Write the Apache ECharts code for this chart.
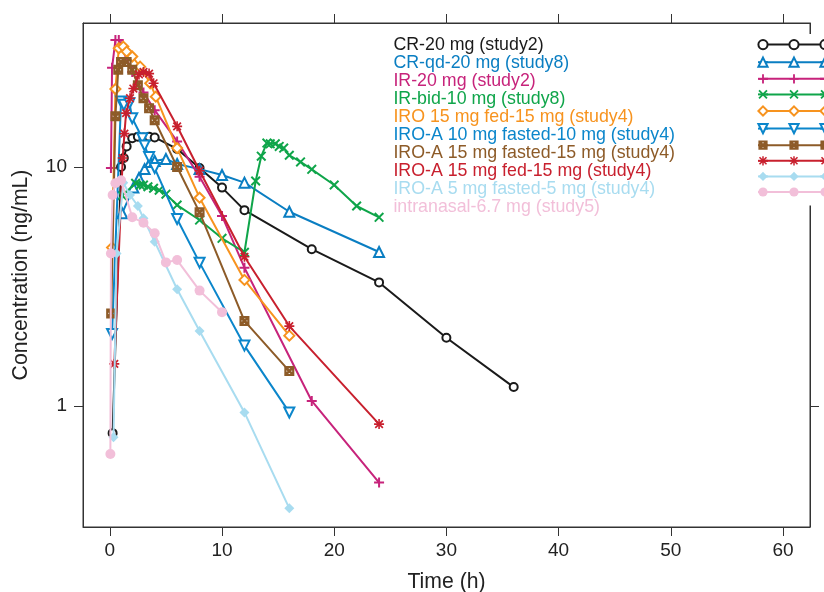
<!DOCTYPE html>
<html>
<head>
<meta charset="utf-8">
<script src="https://cdn.jsdelivr.net/npm/echarts@6/dist/echarts.min.js"></script>
<style>
html,body{margin:0;padding:0;background:#fff;}
#chart{width:824px;height:592px;}
</style>
</head>
<body>
<div id="chart"></div>
<script>
// ---- data (time in h, concentration in ng/mL) ----
const seriesNames = [
  'CR-20 mg (study2)',
  'CR-qd-20 mg (study8)',
  'IR-20 mg (study2)',
  'IR-bid-10 mg (study8)',
  'IRO 15 mg fed-15 mg (study4)',
  'IRO-A 10 mg fasted-10 mg (study4)',
  'IRO-A 15 mg fasted-15 mg (study4)',
  'IRO-A 15 mg fed-15 mg (study4)',
  'IRO-A 5 mg fasted-5 mg (study4)',
  'intranasal-6.7 mg (study5)'
];
const crTime   = [0.25, 1, 1.25, 1.5, 2, 2.5, 3, 3.5, 4, 6, 8, 10, 12, 18, 24, 30, 36];
const crConc   = [0.77, 10.0, 10.9, 12.2, 13.2, 13.4, 13.3, 13.4, 13.3, 11.9, 9.9, 8.2, 6.6, 4.53, 3.29, 1.93, 1.2];
const crqdTime = [1.1, 2.1, 2.6, 3.1, 3.6, 4, 5, 6, 8, 10, 12, 16, 24];
const crqdConc = [6.4, 8.2, 9.0, 9.8, 10.5, 10.6, 10.8, 10.3, 9.8, 9.26, 8.6, 6.5, 4.41];
const irTime   = [0.1, 0.2, 0.5, 0.8, 1, 2, 3, 4, 6, 8, 10, 12, 18, 24];
const irConc   = [9.9, 26, 34, 34, 32, 25, 20.5, 17.3, 12.8, 9.1, 6.24, 3.79, 1.05, 0.478];
const irbidTime = [1.1, 2.3, 2.7, 3, 3.4, 3.9, 4.4, 5, 6, 8, 10, 12, 13, 13.5, 14, 14.3, 14.75, 15.1, 15.5, 16, 17, 18, 20, 22, 24];
const irbidConc = [7.6, 8.55, 8.4, 8.4, 8.27, 8.15, 8.0, 7.7, 6.93, 6.0, 5.03, 4.4, 8.74, 11.1, 12.6, 12.5, 12.5, 12.2, 12.0, 11.2, 10.5, 9.78, 8.41, 6.87, 6.16];
const iroFedTime = [0.2, 0.5, 0.8, 1.2, 1.5, 2, 2.7, 3.6, 4.1, 6, 8, 12, 16];
const iroFedConc = [4.6, 21.2, 31.4, 31.9, 30.4, 29, 26.3, 22.4, 19.7, 12.0, 7.44, 3.37, 1.97];
const iroa10Time = [0.2, 1, 1.25, 1.75, 2, 2.9, 3.1, 3.5, 4, 6, 8, 12, 16];
const iroa10Conc = [2.0, 18.8, 18.2, 18.5, 16, 13.2, 12.3, 11.0, 9.9, 6.06, 3.98, 1.79, 0.94];
const iroa15fTime = [0.12, 0.5, 0.75, 1, 1.5, 2, 2.5, 3, 3.5, 4, 6, 8, 12, 16];
const iroa15fConc = [2.44, 16.3, 25.5, 27.5, 27.5, 25.5, 22, 19.4, 17.6, 15.7, 10.0, 6.46, 2.27, 1.40];
const iroa15fedTime = [0.4, 1.15, 1.3, 1.45, 1.8, 2.1, 2.6, 3, 3.5, 3.9, 6, 8, 12, 16, 24];
const iroa15fedConc = [1.5, 10.9, 13.8, 16.8, 19.4, 21.3, 24.4, 25, 24.6, 22.4, 14.8, 9.65, 4.21, 2.16, 0.84];
const iroa5Time = [0.33, 0.6, 1.2, 1.8, 2.5, 3, 4, 6, 8, 12, 16];
const iroa5Conc = [0.74, 4.35, 8.6, 7.64, 6.87, 6.1, 4.87, 3.08, 2.06, 0.94, 0.373];
const inTime = [0.05, 0.1, 0.25, 0.5, 1, 2, 3, 4, 5, 6, 8, 10];
const inConc = [0.63, 4.35, 7.64, 8.55, 8.8, 6.16, 5.85, 5.28, 3.99, 4.08, 3.04, 2.47];

const xTicks = [0, 10, 20, 30, 40, 50, 60];
const yTicks = [1, 10];

const times = [crTime, crqdTime, irTime, irbidTime, iroFedTime, iroa10Time, iroa15fTime, iroa15fedTime, iroa5Time, inTime];
const concs = [crConc, crqdConc, irConc, irbidConc, iroFedConc, iroa10Conc, iroa15fConc, iroa15fedConc, iroa5Conc, inConc];

// ---- styles ----
const colors = ['#1a1a1a', '#0a7ec2', '#c7237b', '#0fa54a', '#f7931e', '#0b86cb', '#8d5b28', '#c8202e', '#a8dcf0', '#f2bfd9'];
const PLUS = 'path://M4,0H6V10H4ZM0,4H10V6H0Z';
const CROSS = 'path://M0,1.4L1.4,0L10,8.6L8.6,10ZM8.6,0L10,1.4L1.4,10L0,8.6Z';
const STAR = 'path://M4.2,0H5.8V10H4.2ZM0.6,1.8L1.8,0.6L9.4,8.2L8.2,9.4ZM8.2,0.6L9.4,1.8L1.8,9.4L0.6,8.2ZM0,4.2H10V5.8H0Z';
const BOXX = 'path://M0,0H10V10H0ZM2.2,2.2V7.8H7.8V2.2ZM1,2.8L2.8,1L9,7.2L7.2,9ZM7.2,1L9,2.8L2.8,9L1,7.2Z';
const symbols = ['emptyCircle', 'emptyTriangle', PLUS, CROSS, 'emptyDiamond', 'emptyTriangle', BOXX, STAR, 'diamond', 'circle'];
const symbolSizes = [8, 10, 10, 10, 10, 10, 10, 10, 10, 10];
const symbolRotates = [0, 0, 0, 0, 0, 180, 0, 0, 0, 0];
const borderWidths = [1.6, 1.6, 0, 0, 1.6, 1.6, 0, 0, 0, 0];
const FONT = 'Liberation Sans';
const FRAME = '#333333';

const series = seriesNames.map((name, i) => ({
  name: name,
  type: 'line',
  xAxisIndex: 0,
  yAxisIndex: 0,
  data: times[i].map((t, j) => [t, concs[i][j]]),
  symbol: symbols[i],
  symbolSize: symbolSizes[i],
  symbolRotate: symbolRotates[i],
  showAllSymbol: true,
  color: colors[i],
  lineStyle: { width: 2, color: colors[i] },
  itemStyle: { color: colors[i], borderWidth: borderWidths[i] },
  emphasis: { disabled: true },
  z: 2 + i * 0.01
}));

const iconLegendBase = {
  orient: 'vertical',
  selectedMode: false,
  itemHeight: 11.5,
  itemGap: 6.4,
  padding: 0,
  top: 39,
  formatter: function () { return ''; },
  textStyle: { fontSize: 11, lineHeight: 11 },
  data: seriesNames
};

const axisLineStyle = { show: true, onZero: false, lineStyle: { color: FRAME, width: 1 } };
const tickStyle = { color: FRAME, width: 1 };

const chart = echarts.init(document.getElementById('chart'), null, { renderer: 'canvas' });
chart.setOption({
  animation: false,
  backgroundColor: '#ffffff',
  textStyle: { fontFamily: FONT },
  grid: {
    left: 83, right: 14, top: 23, bottom: 65,
    outerBoundsMode: 'none',
    containLabel: false,
    show: true, borderColor: FRAME, borderWidth: 1, backgroundColor: 'transparent'
  },
  legend: [
    {
      orient: 'vertical',
      selectedMode: false,
      left: 387,
      top: 36,
      padding: 0,
      itemWidth: 0,
      itemHeight: 1,
      itemGap: 0,
      itemStyle: { opacity: 0 },
      lineStyle: { opacity: 0 },
      textStyle: { fontSize: 17.8, lineHeight: 17.9, fontFamily: FONT },
      data: seriesNames.map((n, i) => ({ name: n, textStyle: { color: colors[i] } }))
    },
    Object.assign({}, iconLegendBase, {
      left: 757, top: 34, itemWidth: 62,
      padding: [5, 0, 9, 5],
      backgroundColor: '#ffffff'
    }),
    Object.assign({}, iconLegendBase, { left: 819, itemWidth: 10 }),
    Object.assign({}, iconLegendBase, { left: 757, itemWidth: 10 })
  ],
  xAxis: [
    {
      type: 'value', position: 'bottom', min: -2.39, max: 62.41,
      axisLine: axisLineStyle,
      splitLine: { show: false },
      axisTick: { show: true, inside: false, length: 9, customValues: xTicks, lineStyle: tickStyle },
      axisLabel: { customValues: xTicks, fontSize: 19, color: '#222', margin: 14, fontFamily: FONT },
      name: 'Time (h)', nameLocation: 'middle', nameGap: 45,
      nameTextStyle: { fontSize: 21.2, color: '#222', fontFamily: FONT }
    },
    {
      type: 'value', position: 'top', min: -2.39, max: 62.41,
      axisLine: axisLineStyle,
      splitLine: { show: false },
      axisTick: { show: true, inside: false, length: 9, customValues: xTicks, lineStyle: tickStyle },
      axisLabel: { show: false }
    }
  ],
  yAxis: [
    {
      type: 'log', logBase: 10, position: 'left', min: 0.3117, max: 40.05,
      axisLine: axisLineStyle,
      splitLine: { show: false },
      axisTick: { show: true, inside: false, length: 9, customValues: yTicks, lineStyle: tickStyle },
      axisLabel: { customValues: yTicks, fontSize: 19, color: '#222', margin: 16, fontFamily: FONT,
                   formatter: function (v) { return String(Math.round(v)); } },
      name: 'Concentration (ng/mL)', nameLocation: 'middle', nameGap: 51, nameRotate: 90,
      nameTextStyle: { fontSize: 21.2, color: '#222', fontFamily: FONT }
    },
    {
      type: 'log', logBase: 10, position: 'right', min: 0.3117, max: 40.05,
      axisLine: axisLineStyle,
      splitLine: { show: false },
      axisTick: { show: true, inside: false, length: 9, customValues: yTicks, lineStyle: tickStyle },
      axisLabel: { show: false }
    }
  ],
  series: series
});
</script>
</body>
</html>
